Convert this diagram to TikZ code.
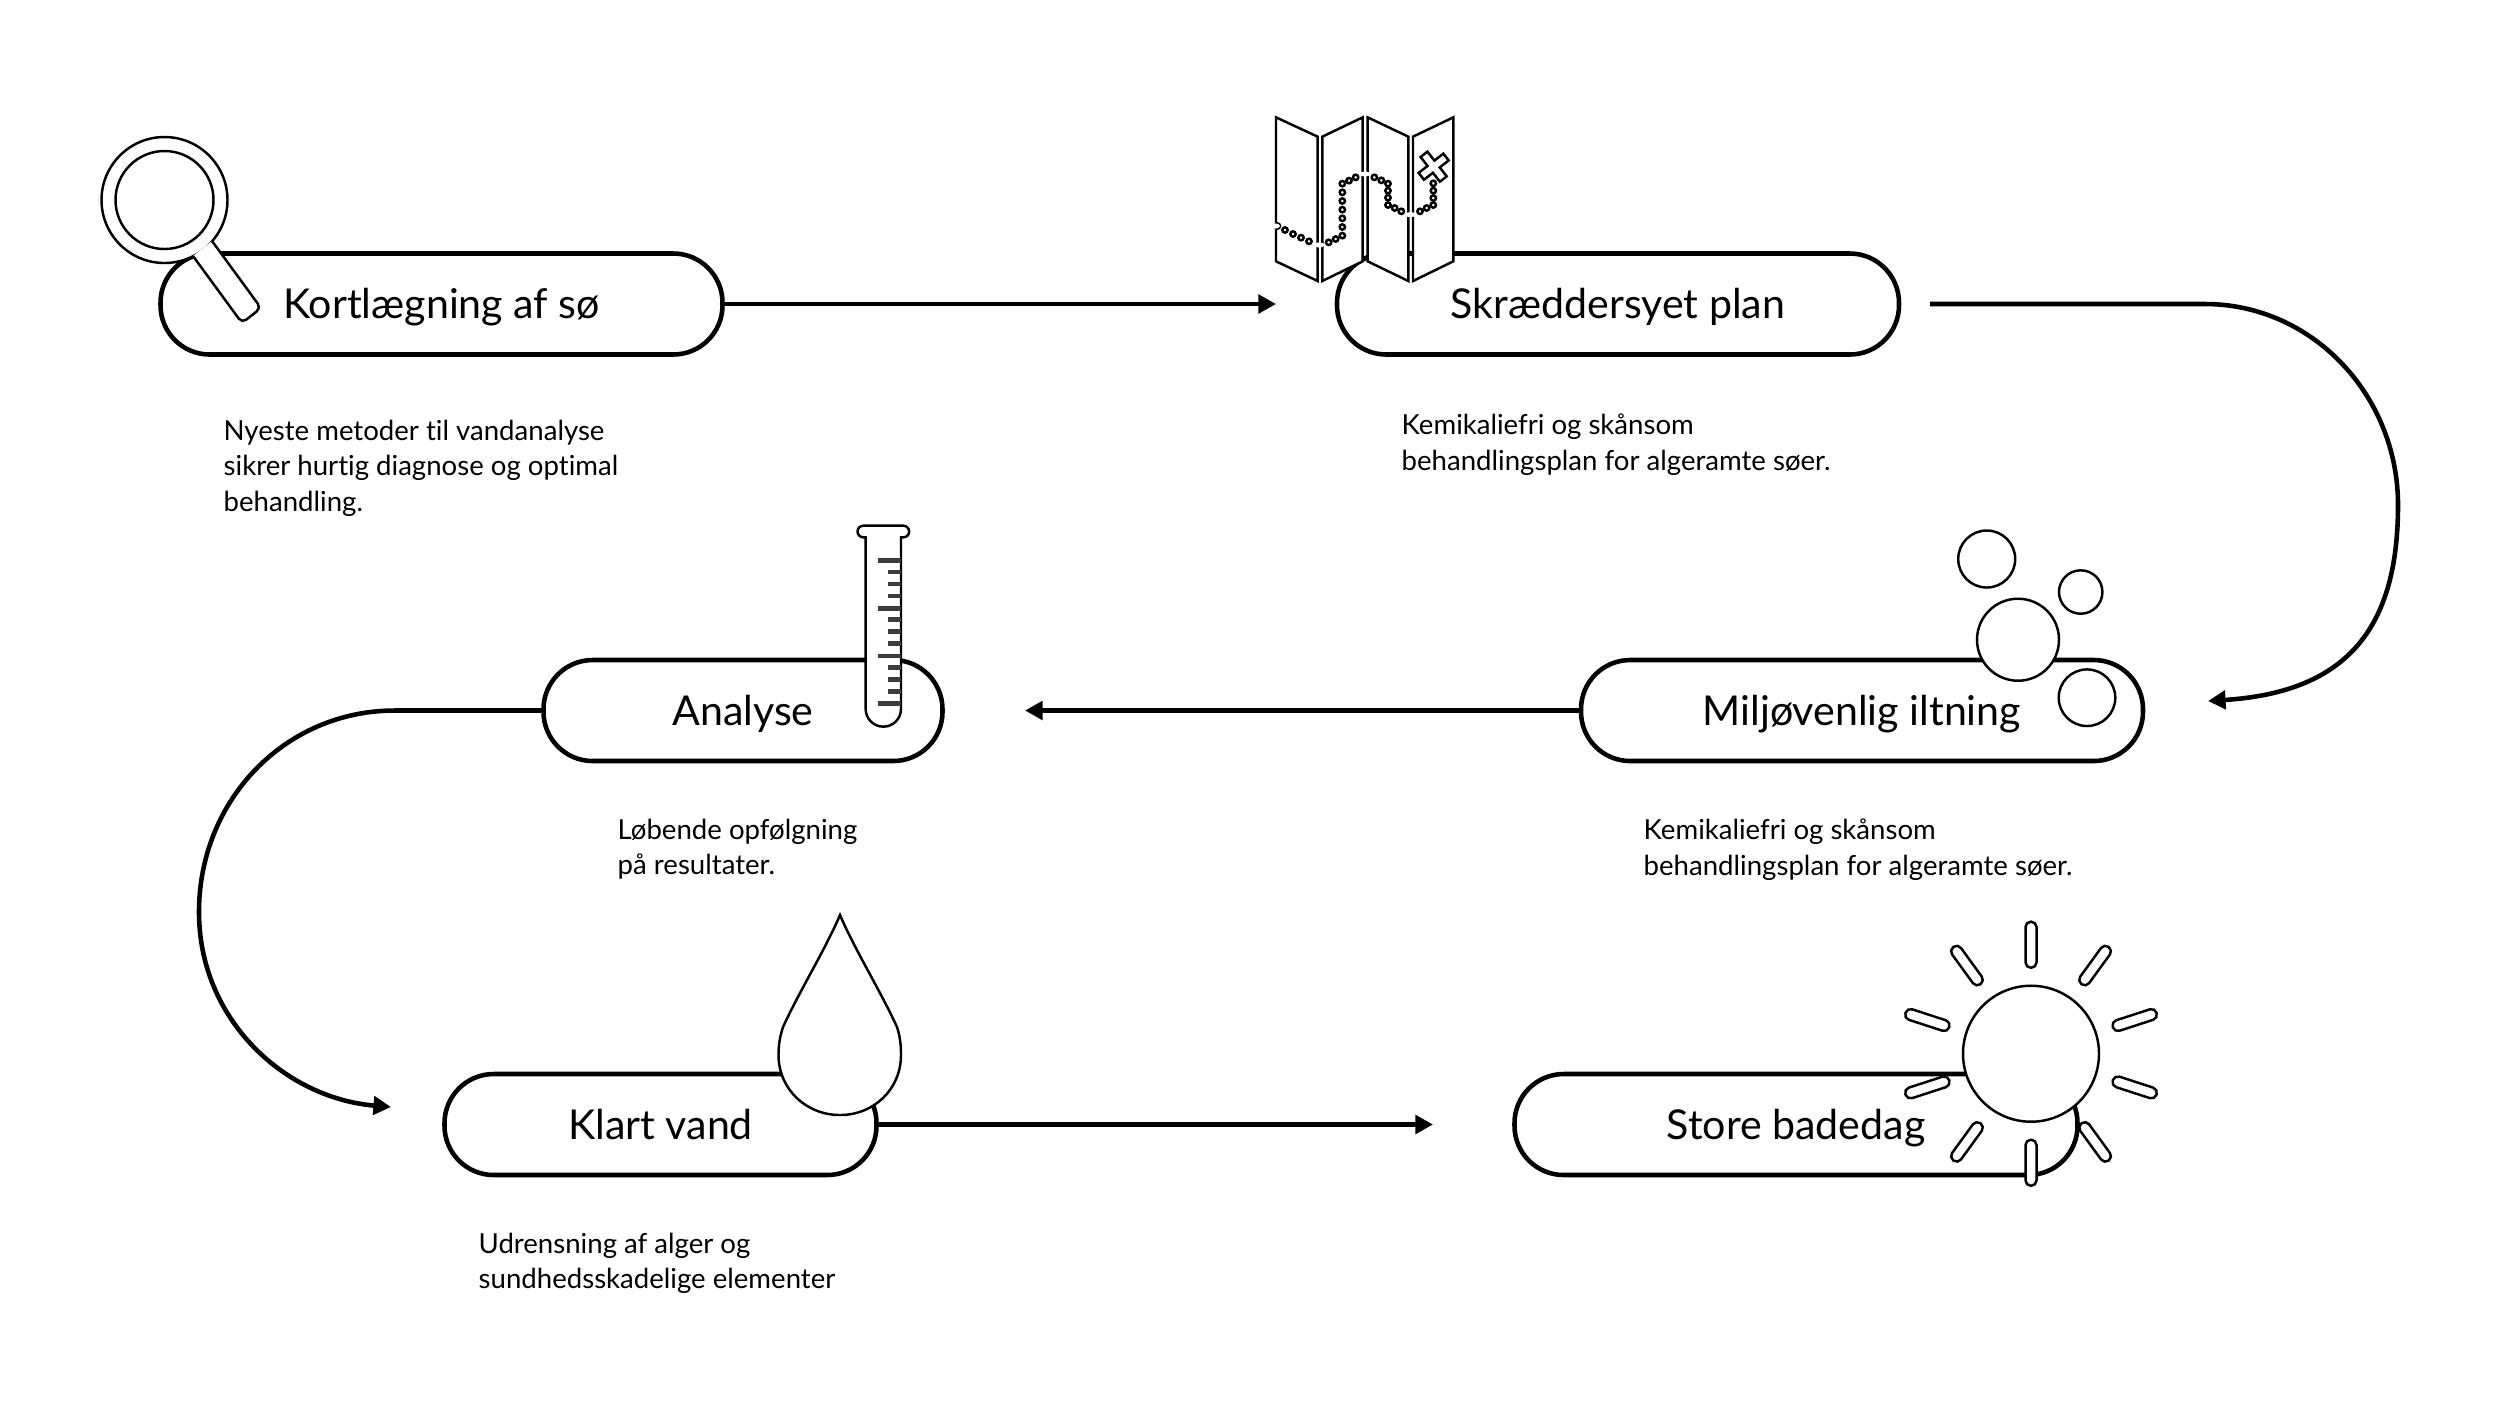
\documentclass[tikz,border=0pt]{standalone}
\usepackage{fontspec}
\usepackage{tikz}
\usetikzlibrary{arrows.meta, calc}
\setmainfont{Lato}[Ligatures=CommonOff]
\definecolor{inkblack}{RGB}{0,0,0}
\definecolor{tickgray}{RGB}{60,60,60}
\newcommand{\labelsize}{\fontsize{11.7}{13}\selectfont}
\newcommand{\notesize}{\fontsize{7.85}{10.2}\selectfont}

\begin{document}
\begin{tikzpicture}[x=0.1mm, y=-0.1mm,
    pillbox/.style={draw=inkblack, line width=1.3pt, fill=white, rectangle, rounded corners=14pt,
      minimum height=101*0.1mm, inner sep=0pt, font=\labelsize, text height=10pt, text depth=1.6pt},
    flowarrow/.style={line width=1.3pt, inkblack, -{Triangle[length=5pt, width=5.2pt]}},
    noteline/.style={anchor=north west, inner sep=0pt, align=left, font=\notesize},
    iconline/.style={draw=inkblack, line width=0.7pt, fill=white, line join=miter},
    bead/.style={draw=inkblack, line width=0.7pt, fill=white},
    sunray/.style={draw=inkblack, line width=0.7pt, fill=white, rectangle, rounded corners=1.5pt,
      minimum width=46*0.1mm, minimum height=11*0.1mm, inner sep=0pt}]
  \useasboundingbox (0,0) rectangle (2500,1406);

  % process steps
  \node[pillbox, minimum width=562*0.1mm] (survey) at (441.5,304) {Kortlægning af sø};
  \node[pillbox, minimum width=562*0.1mm] (plan) at (1618,304) {Skræddersyet plan};
  \node[pillbox, minimum width=562*0.1mm] (oxygen) at (1862,710.5) {Miljøvenlig iltning};
  \node[pillbox, minimum width=399*0.1mm] (analysis) at (743,710.5) {Analyse};
  \node[pillbox, minimum width=432*0.1mm] (water) at (660.5,1124.5) {Klart vand};
  \node[pillbox, minimum width=563*0.1mm] (bathing) at (1796,1124.5) {Store badedag};

  % free arrow ends
  \coordinate (planin) at (1276,304);
  \coordinate (planout) at (1930,304);
  \coordinate (oxygenin) at (2208,701);
  \coordinate (analysisin) at (1025,710.5);
  \coordinate (waterin) at (391,1107);
  \coordinate (bathingin) at (1433,1124.5);

  % arrows
  \draw[flowarrow] (survey.east) -- (planin);
  \draw[flowarrow] (planout) -- (2205,304) .. controls (2312,304) and (2398,395) .. (2398,505)
    .. controls (2398,625) and (2350,692) .. (oxygenin);
  \draw[flowarrow] (oxygen.west) -- (analysisin);
  \draw[flowarrow] (analysis.west) -- (395,710.5) .. controls (285,710.5) and (199,800) .. (199,912)
    .. controls (199,1020) and (285,1098) .. (waterin);
  \draw[flowarrow] (water.east) -- (bathingin);

  % notes
  \node[noteline] (surveynote) at (223,419) {Nyeste metoder til vandanalyse\\sikrer hurtig diagnose og optimal\\behandling.};
  \node[noteline] (plannote) at (1401,413) {Kemikaliefri og skånsom\\behandlingsplan for algeramte søer.};
  \node[noteline] (oxygennote) at (1643,818) {Kemikaliefri og skånsom\\behandlingsplan for algeramte søer.};
  \node[noteline] (analysisnote) at (617,818) {Løbende opfølgning\\på resultater.};
  \node[noteline] (waternote) at (478,1232) {Udrensning af alger og\\sundhedsskadelige elementer};

  % magnifier
  \draw[iconline] (164.5,200) circle (63);
  \draw[iconline] (164.5,200) circle (49);
  \draw[iconline, rounded corners=1.5pt] (212,241) -- (261,308) -- (242,323) -- (193,256);

  % map
  \begin{scope}[shift={(1240,100)}, x=0.1mm/3, y=-0.1mm/3]
    \draw[iconline] (108,52) -- (233,110) -- (233,543) -- (108,484) -- cycle;
    \draw[iconline] (247,110) -- (368,52) -- (368,484) -- (247,543) -- cycle;
    \draw[iconline] (383,52) -- (505,110) -- (505,543) -- (383,484) -- cycle;
    \draw[iconline] (519,110) -- (640,52) -- (640,484) -- (519,543) -- cycle;
    \foreach \bx/\by in {112/378, 135/390, 159/402, 183/413, 207/424, 266/427, 287/417, 307/407,
        307/381, 307/355, 307/329, 307/303, 307/277, 307/251, 327/242, 347/232, 403/232, 424/241,
        444/251, 444/272, 444/293, 444/315, 464/324, 484/334, 540/334, 560/324, 580/315, 580/294,
        580/272, 580/250}
      \draw[bead] (\bx,\by) circle (8);
    \foreach \bx/\by in {105/378, 238/435, 375/222, 511/344}
      \fill[white] (\bx,\by) ellipse (15 and 8);
    \draw[iconline, shift={(581,200)}, rotate=38] (-13,-47) -- (13,-47) -- (13,-13) -- (47,-13) -- (47,13)
      -- (13,13) -- (13,47) -- (-13,47) -- (-13,13) -- (-47,13) -- (-47,-13) -- (-13,-13) -- cycle;
  \end{scope}

  % test tube
  \begin{scope}[shift={(820,510)}, x=0.1mm/3, y=-0.1mm/3]
    \draw[iconline] (137,82) -- (137,597) arc[start angle=180, end angle=0, radius=53]
      -- (243,82) -- (250,82) arc[start angle=90, end angle=-90, radius=17.5]
      -- (130,47) arc[start angle=270, end angle=90, radius=17.5] -- cycle;
    \foreach \ty in {152, 295, 438, 581}
      \draw[tickgray, line width=1.3pt] (173,\ty) -- (243,\ty);
    \foreach \ty in {186, 222, 258, 329, 365, 401, 472, 508, 545}
      \draw[tickgray, line width=1.3pt] (205,\ty) -- (243,\ty);
  \end{scope}

  % bubbles
  \draw[iconline] (1986.7,559) circle (28.5);
  \draw[iconline] (2080.7,592) circle (21.7);
  \draw[iconline] (2018,639.7) circle (41);
  \draw[iconline] (2087,697.7) circle (28.3);

  % drop
  \draw[iconline] (840,915) .. controls (825,950) and (800,990) .. (783,1027)
    .. controls (780,1036) and (778.5,1045) .. (778.5,1055)
    .. controls (778.5,1089) and (806,1115) .. (840,1115)
    .. controls (874,1115) and (901,1089) .. (901,1055)
    .. controls (901,1045) and (900,1036) .. (897,1027)
    .. controls (880,990) and (855,950) .. (840,915) -- cycle;

  % sun
  \coordinate (suncentre) at (2031,1053.7);
  \foreach \a in {90, 54, 18, -18, -54, -90, -126, -162, 162, 126}
    \node[sunray, rotate=-\a] at ($(suncentre)+(\a:109)$) {};
  \draw[iconline] (suncentre) circle (68);
\end{tikzpicture}
\end{document}
